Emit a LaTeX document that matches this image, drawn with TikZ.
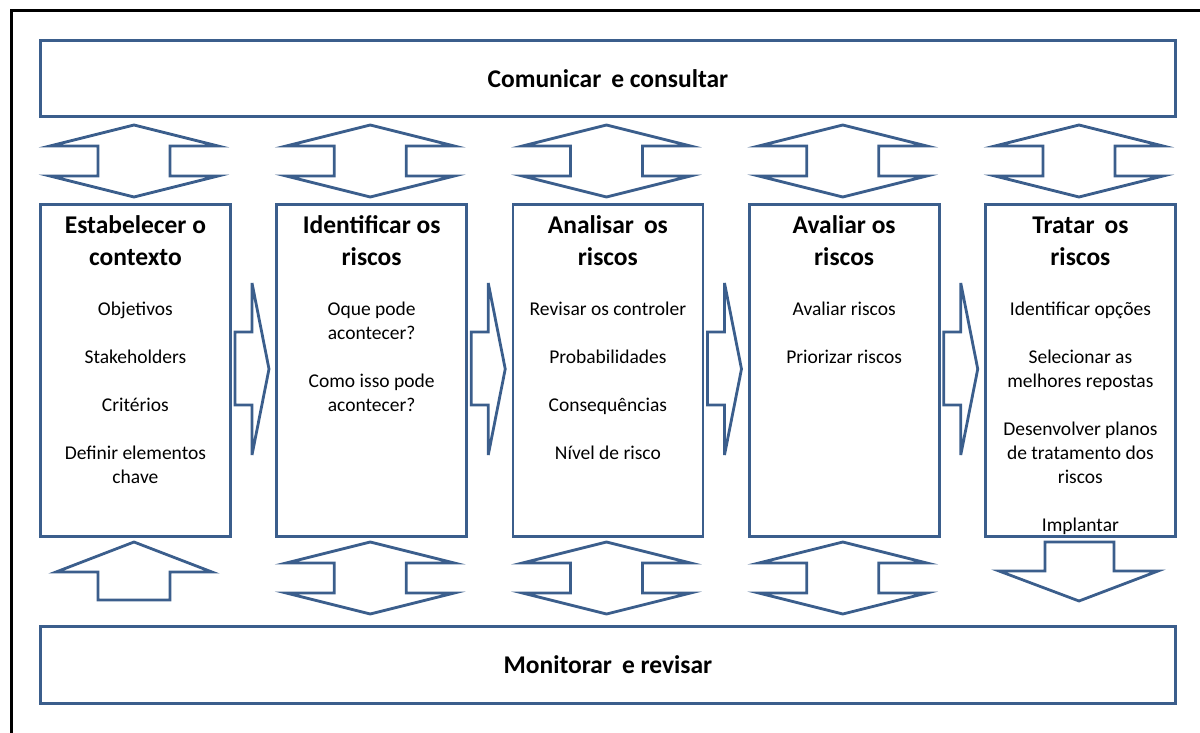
\documentclass[tikz,border=0pt]{standalone}
\usepackage{fontspec}
\setmainfont{Carlito}
\definecolor{bl}{RGB}{59,94,140}
\newcommand\vdblarrow[2]{\draw[arr] (#1,#2) -- ({#1+84},{#2+21}) -- ({#1+36},{#2+21}) -- ({#1+36},{#2+51}) -- ({#1+84},{#2+51}) -- (#1,{#2+72}) -- ({#1-84},{#2+51}) -- ({#1-36},{#2+51}) -- ({#1-36},{#2+21}) -- ({#1-84},{#2+21}) -- cycle;}
\newcommand\rgtarrow[1]{\draw[arr] (#1,332) -- ({#1+17},332) -- ({#1+17},283) -- ({#1+34},369) -- ({#1+17},455) -- ({#1+17},405) -- (#1,405) -- cycle;}
\begin{document}
\begin{tikzpicture}[x=1pt,y=-1pt,line join=miter,
  bx/.style={draw=bl,line width=2.8pt,inner sep=0pt,anchor=north west},
  arr/.style={draw=bl,line width=2.8pt},
  head/.style={anchor=north,inner sep=0pt,align=center,font=\bfseries\fontsize{25.5}{32.5}\selectfont},
  body/.style={anchor=north,inner sep=0pt,align=center,font=\fontsize{19.5}{24}\selectfont}]
\useasboundingbox (0,0) rectangle (1200,733);
\draw[line width=3pt] (11,733) -- (11,11) -- (1200,11);
% top and bottom bars
\node[bx,minimum width=1135,minimum height=76] (com) at (39,39) {};
\node[bx,minimum width=1135,minimum height=77] (mon) at (39,625) {};
\node[head,anchor=center] (comt) at (com.center) {Comunicar\, e consultar};
\node[head,anchor=center] (mont) at (mon.center) {Monitorar\, e revisar};
% columns
\foreach \i/\x in {1/39,2/275.25,3/511.5,4/747.75,5/984}{
  \node[bx,minimum width=190,minimum height=332] (b\i) at (\x,203) {};
}
\node[head] (h1) at ([yshift=-7.25]b1.north) {\strut Estabelecer o\\contexto};
\node[head] (h2) at ([yshift=-7.25]b2.north) {\strut Identificar os\\riscos};
\node[head] (h3) at ([yshift=-7.25]b3.north) {\strut Analisar\, os\\riscos};
\node[head] (h4) at ([yshift=-7.25]b4.north) {\strut Avaliar os\\riscos};
\node[head] (h5) at ([yshift=-7.25]b5.north) {\strut Tratar\, os\\riscos};
\node[body] (t1) at ([yshift=-95.2]b1.north) {\strut Objetivos\\[24pt]Stakeholders\\[24pt]Critérios\\[24pt]Definir elementos\\chave};
\node[body] (t2) at ([yshift=-95.2]b2.north) {\strut Oque pode\\acontecer?\\[24pt]Como isso pode\\acontecer?};
\node[body] (t3) at ([yshift=-95.2]b3.north) {\strut Revisar os controler\\[24pt]Probabilidades\\[24pt]Consequências\\[24pt]Nível de risco};
\node[body] (t4) at ([yshift=-95.2]b4.north) {\strut Avaliar riscos\\[24pt]Priorizar riscos};
\node[body] (t5) at ([yshift=-95.2]b5.north) {\strut Identificar opções\\[24pt]Selecionar as\\melhores repostas\\[24pt]Desenvolver planos\\de tratamento dos\\riscos\\[24pt]Implantar};
% top double arrows
\foreach \c in {134,370.25,606.5,842.75,1079}{\vdblarrow{\c}{125}}
% bottom double arrows
\foreach \c in {370.25,606.5,842.75}{\vdblarrow{\c}{542}}
% right arrows
\foreach \x in {235,471.25,707.5,943.75}{\rgtarrow{\x}}
% up arrow under box 1
\draw[arr] (134,542) -- (212,572) -- (170,572) -- (170,600) -- (98,600) -- (98,572) -- (56,572) -- cycle;
% down arrow under box 5
\draw[arr] (1045,542) -- (1114,542) -- (1114,571) -- (1158,571) -- (1079,601) -- (999,571) -- (1045,571) -- cycle;
\end{tikzpicture}
\end{document}
